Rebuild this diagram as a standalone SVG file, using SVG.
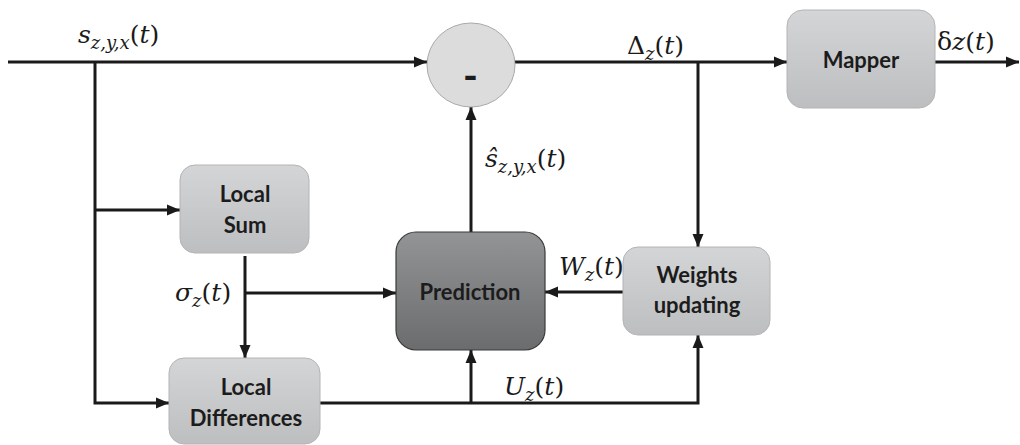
<svg xmlns="http://www.w3.org/2000/svg" width="1020" height="445" viewBox="0 0 1020 445">
<style>
.ln{fill:none;stroke:#1a1a1a;stroke-width:3}
.arr{marker-end:url(#ah)}
.box{fill:url(#lg);stroke:#b4b4b6;stroke-width:1}
.dark{fill:url(#dg);stroke:#3a3a3a;stroke-width:1.2}
.bt{font-family:Lato,"Open Sans",sans-serif;font-weight:bold;font-size:22px;fill:#1c1c1c;text-anchor:middle}
.m{font-family:"DejaVu Serif","Liberation Serif",serif;font-size:25px;fill:#1a1a1a}
.i{font-style:italic}
.sb{font-size:18px;font-style:italic}
</style>
<defs>
<linearGradient id="lg" x1="0" y1="0" x2="0" y2="1"><stop offset="0" stop-color="#d4d5d7"/><stop offset="1" stop-color="#bdbec0"/></linearGradient>
<linearGradient id="dg" x1="0" y1="0" x2="0" y2="1"><stop offset="0" stop-color="#939496"/><stop offset="1" stop-color="#6b6c6e"/></linearGradient>
<marker id="ah" markerUnits="userSpaceOnUse" markerWidth="13" markerHeight="12" refX="13" refY="6" orient="auto"><path d="M0,0.5 L13,6 L0,11.5 z" fill="#1a1a1a"/></marker>
</defs>
<g id="connectors">
<line class="ln arr" x1="8" y1="62" x2="427" y2="62"/>
<line class="ln arr" x1="515" y1="62" x2="787" y2="62"/>
<line class="ln arr" x1="935" y1="62" x2="1019" y2="62"/>
<line class="ln arr" x1="698" y1="62" x2="698" y2="247"/>
<polyline class="ln" points="95,62 95,403 160,403"/>
<line class="ln arr" x1="160" y1="403" x2="169" y2="403"/>
<line class="ln arr" x1="95" y1="210" x2="180" y2="210"/>
<line class="ln arr" x1="245" y1="256" x2="245" y2="358"/>
<line class="ln arr" x1="245" y1="293" x2="396" y2="293"/>
<line class="ln arr" x1="471" y1="232" x2="471" y2="107"/>
<line class="ln arr" x1="623" y1="292" x2="545" y2="292"/>
<polyline class="ln" points="320,403 698,403 698,350"/>
<line class="ln arr" x1="698" y1="350" x2="698" y2="335"/>
<line class="ln arr" x1="471" y1="403" x2="471" y2="350"/>
</g>
<g id="sub">
<ellipse cx="471" cy="65" rx="44" ry="42" fill="#dcdcdd" stroke="#a9a9ab" stroke-width="1"/>
<text class="bt" x="470.5" y="90" style="font-size:40px">-</text>
</g>
<g id="mapper">
<rect class="box" x="787" y="10" width="148" height="98" rx="16"/>
<text class="bt" x="861" y="68">Mapper</text>
</g>
<g id="localsum">
<rect class="box" x="180" y="165" width="129" height="88" rx="15"/>
<text class="bt" x="245" y="202">Local</text>
<text class="bt" x="245" y="233">Sum</text>
</g>
<g id="localdiff">
<rect class="box" x="169" y="358" width="151" height="86" rx="15"/>
<text class="bt" x="246" y="395">Local</text>
<text class="bt" x="246" y="426">Differences</text>
</g>
<g id="prediction">
<rect class="dark" x="396" y="232" width="149" height="118" rx="20"/>
<text class="bt" x="470" y="300">Prediction</text>
</g>
<g id="weights">
<rect class="box" x="623" y="247" width="147" height="88" rx="15"/>
<text class="bt" x="697" y="283">Weights</text>
<text class="bt" x="697" y="313">updating</text>
</g>
<g id="labels">
<text class="m" x="78" y="43"><tspan class="i">s</tspan><tspan class="sb" dy="6">z,y,x</tspan><tspan dy="-6">(</tspan><tspan class="i">t</tspan>)</text>
<text class="m" x="627" y="54">Δ<tspan class="sb" dy="6">z</tspan><tspan dy="-6">(</tspan><tspan class="i">t</tspan>)</text>
<text class="m" x="937" y="50">δ<tspan class="i">z</tspan>(<tspan class="i">t</tspan>)</text>
<text class="m" x="485" y="167"><tspan class="i">ŝ</tspan><tspan class="sb" dy="6">z,y,x</tspan><tspan dy="-6">(</tspan><tspan class="i">t</tspan>)</text>
<text class="m" x="175" y="301"><tspan class="i">σ</tspan><tspan class="sb" dy="6">z</tspan><tspan dy="-6">(</tspan><tspan class="i">t</tspan>)</text>
<text class="m" x="559" y="275"><tspan class="i">W</tspan><tspan class="sb" dy="6">z</tspan><tspan dy="-6">(</tspan><tspan class="i">t</tspan>)</text>
<text class="m" x="504" y="395"><tspan class="i">U</tspan><tspan class="sb" dy="6">z</tspan><tspan dy="-6">(</tspan><tspan class="i">t</tspan>)</text>
</g>
</svg>
